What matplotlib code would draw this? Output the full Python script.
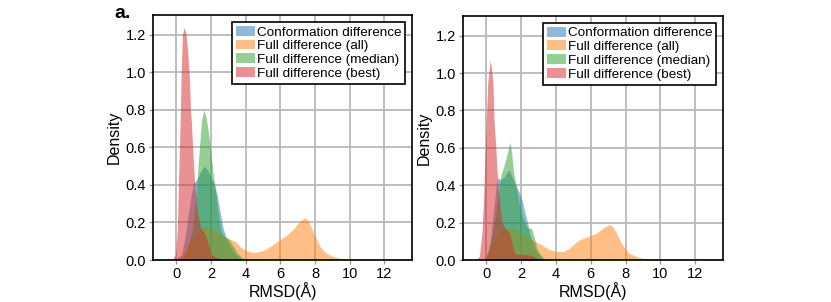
import matplotlib
matplotlib.use("Agg")
import matplotlib.pyplot as plt
from matplotlib.patches import Patch

plt.rcParams['font.family'] = ['Liberation Sans', 'DejaVu Sans']

labels = ["Conformation difference", "Full difference (all)",
          "Full difference (median)", "Full difference (best)"]
colors = ["#1f77b4", "#ff7f0e", "#2ca02c", "#d62728"]

# ---- Left panel (density curves) ----
L_conf_x = [-0.1, 0.3, 0.5, 0.7, 0.85, 1.0, 1.2, 1.4, 1.6, 1.8, 2.0, 2.2, 2.35, 2.5, 2.7, 2.95, 3.1, 3.4, 3.8]
L_conf_y = [0.0, 0.03, 0.12, 0.25, 0.34, 0.41, 0.43, 0.47, 0.50, 0.48, 0.44, 0.40, 0.35, 0.27, 0.17, 0.10, 0.07, 0.03, 0.0]

L_all_x = [-1.35, -0.2, 0.2, 0.5, 0.8, 1.1, 1.4, 1.7, 2.0, 2.4, 2.8, 3.1, 3.4, 3.7, 4.0, 4.5, 5.0, 5.3, 5.7, 6.0, 6.4, 6.8, 7.1, 7.4, 7.6, 7.8, 8.0, 8.3, 8.6, 9.0, 9.5, 10.0, 11.0, 13.6]
L_all_y = [0.0, 0.0, 0.01, 0.05, 0.10, 0.14, 0.17, 0.18, 0.17, 0.15, 0.12, 0.11, 0.10, 0.07, 0.05, 0.04, 0.05, 0.065, 0.09, 0.11, 0.135, 0.17, 0.205, 0.225, 0.21, 0.17, 0.13, 0.07, 0.04, 0.02, 0.008, 0.003, 0.0005, 0.0]

L_med_x = [0.3, 0.6, 0.9, 1.1, 1.25, 1.35, 1.45, 1.58, 1.72, 1.85, 1.96, 2.1, 2.25, 2.4, 2.55, 2.7, 2.9, 3.05, 3.3, 3.5, 3.8, 4.1]
L_med_y = [0.0, 0.05, 0.15, 0.30, 0.50, 0.62, 0.74, 0.80, 0.76, 0.68, 0.60, 0.48, 0.38, 0.26, 0.17, 0.13, 0.12, 0.11, 0.07, 0.04, 0.01, 0.0]

L_best_x = [-0.25, -0.05, 0.05, 0.12, 0.18, 0.24, 0.28, 0.35, 0.45, 0.55, 0.65, 0.75, 0.82, 0.88, 0.95, 1.06, 1.2, 1.4, 1.6, 1.8, 2.0, 2.3, 2.7]
L_best_y = [0.0, 0.03, 0.15, 0.40, 0.60, 0.80, 1.00, 1.20, 1.24, 1.21, 1.12, 0.98, 0.80, 0.72, 0.58, 0.41, 0.27, 0.17, 0.15, 0.10, 0.03, 0.015, 0.0]

# ---- Right panel ----
R_conf_x = [-0.1, 0.1, 0.25, 0.4, 0.55, 0.65, 0.8, 1.0, 1.2, 1.32, 1.5, 1.7, 1.9, 2.05, 2.2, 2.37, 2.5, 2.7, 2.9, 3.2, 3.5]
R_conf_y = [0.0, 0.03, 0.12, 0.25, 0.38, 0.44, 0.43, 0.44, 0.47, 0.48, 0.44, 0.40, 0.36, 0.32, 0.26, 0.20, 0.14, 0.08, 0.04, 0.01, 0.0]

R_all_x = [-1.35, -0.3, 0.0, 0.3, 0.6, 0.9, 1.1, 1.4, 1.7, 2.0, 2.4, 2.8, 3.2, 3.6, 4.0, 4.4, 4.77, 5.1, 5.34, 5.9, 6.3, 6.7, 7.05, 7.25, 7.45, 7.65, 7.83, 8.2, 8.8, 9.5, 10.5, 13.6]
R_all_y = [0.0, 0.0, 0.02, 0.07, 0.13, 0.165, 0.17, 0.17, 0.155, 0.14, 0.12, 0.10, 0.08, 0.057, 0.046, 0.045, 0.062, 0.09, 0.107, 0.128, 0.142, 0.17, 0.19, 0.18, 0.15, 0.11, 0.08, 0.036, 0.012, 0.003, 0.0005, 0.0]

R_med_x = [-0.1, 0.1, 0.3, 0.5, 0.7, 0.85, 1.0, 1.15, 1.35, 1.45, 1.55, 1.7, 1.85, 2.0, 2.2, 2.4, 2.6, 2.75, 2.9, 3.1, 3.4]
R_med_y = [0.0, 0.05, 0.12, 0.22, 0.37, 0.46, 0.50, 0.55, 0.63, 0.58, 0.48, 0.40, 0.32, 0.26, 0.20, 0.17, 0.17, 0.12, 0.06, 0.03, 0.0]

R_best_x = [-0.6, -0.4, -0.25, -0.15, -0.08, 0.0, 0.08, 0.22, 0.3, 0.38, 0.44, 0.55, 0.64, 0.75, 0.9, 1.1, 1.3, 1.45, 1.6, 1.8, 2.2, 2.6, 2.9, 3.2]
R_best_y = [0.0, 0.02, 0.15, 0.35, 0.55, 0.75, 0.95, 1.07, 1.02, 0.95, 0.75, 0.59, 0.44, 0.32, 0.20, 0.17, 0.15, 0.10, 0.04, 0.03, 0.03, 0.025, 0.01, 0.0]

panels = [
    [(L_conf_x, L_conf_y), (L_all_x, L_all_y), (L_med_x, L_med_y), (L_best_x, L_best_y)],
    [(R_conf_x, R_conf_y), (R_all_x, R_all_y), (R_med_x, R_med_y), (R_best_x, R_best_y)],
]

x_ticks = [0, 2, 4, 6, 8, 10, 12]
y_ticks = [0.0, 0.2, 0.4, 0.6, 0.8, 1.0, 1.2]

fig = plt.figure(figsize=(8.31, 3.02), dpi=100)
positions = [[0.184, 0.139, 0.312, 0.811], [0.557, 0.139, 0.313, 0.808]]

for pos, series in zip(positions, panels):
    ax = fig.add_axes(pos)
    ax.set_axisbelow(True)
    ax.grid(True, color="#b9b9b9", linewidth=1.3)
    for (xs, ys), c in zip(series, colors):
        ax.fill_between(xs, 0, ys, color=c, alpha=0.5, linewidth=0)
    ax.set_xlim(-1.35, 13.6)
    ax.set_ylim(0, 1.305)
    ax.set_xticks(x_ticks)
    ax.set_yticks(y_ticks)
    ax.set_yticklabels([f"{v:.1f}" for v in y_ticks])
    ax.tick_params(labelsize=10.5, length=3, width=1, color="#999999", pad=2)
    for s in ax.spines.values():
        s.set_color("black")
        s.set_linewidth(1.2)
    ax.set_xlabel("RMSD(Å)", fontsize=11.5, labelpad=1)
    ax.set_ylabel("Density", fontsize=11.5, labelpad=3)
    handles = [Patch(facecolor=c, alpha=0.5, edgecolor="none") for c in colors]
    leg = ax.legend(handles, labels, loc="upper right", fontsize=9.7,
                    frameon=True, fancybox=False, framealpha=1,
                    edgecolor="black", handlelength=1.4, handleheight=0.75,
                    handletextpad=0.12, labelspacing=0.08, borderpad=0.3,
                    borderaxespad=0.5)
    leg.get_frame().set_linewidth(1.2)

fig.text(0.138, 0.955, "a.", fontsize=14, fontweight="bold", va="center", ha="left")

fig.savefig("out.png", dpi=100)
